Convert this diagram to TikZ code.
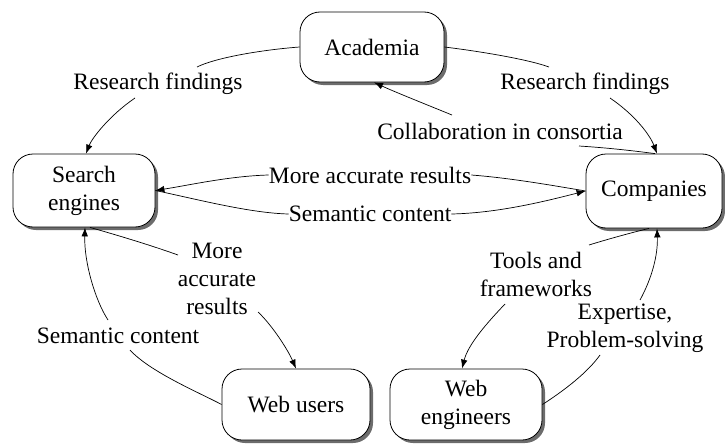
\documentclass[tikz,border=0pt]{standalone}
\usepackage{fontspec}
\setmainfont{Liberation Serif}
\usetikzlibrary{arrows.meta,shadows}
\begin{document}
\begin{tikzpicture}[x=1pt,y=1pt,
  box/.style={draw,rounded corners=20pt,fill=white,line width=0.8pt,align=center,inner sep=0pt,
     drop shadow={shadow xshift=3pt,shadow yshift=-3pt,fill=gray!85!black,opacity=1}},
  lbl/.style={align=center,inner sep=0pt},
  conn/.style={line width=0.7pt},
  arr/.style={conn,-{Latex[length=9pt,width=6.5pt]}},
  font=\fontsize{23.5}{28}\selectfont]
\useasboundingbox (0,0) rectangle (725,-444);
% boxes
\node[box,minimum width=144pt,minimum height=70pt] (acad) at (372,-47) {Academia};
\node[box,minimum width=142pt,minimum height=73pt] (se) at (84,-190.5) {Search\\engines};
\node[box,minimum width=136pt,minimum height=74pt] (comp) at (654,-191) {Companies};
\node[box,minimum width=148pt,minimum height=71pt] (wu) at (296,-404.5) {Web users};
\node[box,minimum width=152pt,minimum height=71pt] (we) at (466,-404.5) {Web\\engineers};
% labels
\node[lbl] (rfl) at (158,-84) {Research findings};
\node[lbl] (rfr) at (585,-84) {Research findings};
\node[lbl] (col) at (500,-131) {Collaboration in consortia};
\node[lbl] (mar) at (370,-175) {More accurate results};
\node[lbl] (scm) at (370,-214) {Semantic content};
\node[lbl] (mar2) at (217,-279) {More\\accurate\\results};
\node[lbl] (scl) at (118,-336) {Semantic content};
\node[lbl] (tf) at (536,-274) {Tools and\\frameworks};
\node[lbl] (ep) at (625,-328) {Expertise,\\Problem-solving};
% attachment points
\coordinate (p1) at (197,-67);
\coordinate (p2) at (135,-98);
\coordinate (p3) at (549,-67);
\coordinate (p4) at (610,-98);
\coordinate (p5) at (579,-146);
\coordinate (p6) at (452,-115);
\coordinate (q1) at (178,-255);
\coordinate (q2) at (258,-312);
\coordinate (q3) at (130,-350);
\coordinate (q4) at (108,-320);
\coordinate (q5) at (589,-245);
\coordinate (q6) at (505,-304);
\coordinate (q7) at (600,-355);
\coordinate (q8) at (640,-300);
% connectors
\draw[conn] (acad.west) .. controls (260,-50) and (215,-58) .. (p1);
\draw[arr] (p2) .. controls (110,-115) and (92,-138) .. ([xshift=2pt]se.north);
\draw[conn] (acad.east) .. controls (485,-52) and (530,-60) .. (p3);
\draw[arr] (p4) .. controls (635,-115) and (650,-135) .. ([xshift=3pt]comp.north);
\draw[conn] (p5) .. controls (610,-148) and (635,-151) .. ([xshift=1pt]comp.north);
\draw[arr] (p6) .. controls (425,-104) and (395,-92) .. ([xshift=2pt]acad.south);
\draw[arr] (mar.west) .. controls (230,-176) and (190,-185) .. (se.east);
\draw[conn] (scm.west) .. controls (250,-213) and (200,-200) .. (se.east);
\draw[conn] (mar.east) .. controls (510,-178) and (550,-185) .. (comp.west);
\draw[arr] (scm.east) .. controls (500,-213) and (550,-200) .. (comp.west);
\draw[conn] ([xshift=6pt]se.south) .. controls (120,-236) and (150,-245) .. (q1);
\draw[arr] (q2) .. controls (272,-325) and (288,-350) .. (wu.north);
\draw[conn] (wu.west) .. controls (200,-393) and (150,-372) .. (q3);
\draw[arr] (q4) .. controls (95,-300) and (84,-262) .. ([xshift=1pt]se.south);
\draw[conn] ([xshift=-5pt]comp.south) .. controls (630,-233) and (605,-240) .. (q5);
\draw[arr] (q6) .. controls (485,-325) and (468,-345) .. ([xshift=-4pt]we.north);
\draw[conn] (we.east) .. controls (565,-390) and (588,-372) .. (q7);
\draw[arr] (q8) .. controls (652,-278) and (658,-255) .. ([xshift=3pt]comp.south);
\end{tikzpicture}
\end{document}
